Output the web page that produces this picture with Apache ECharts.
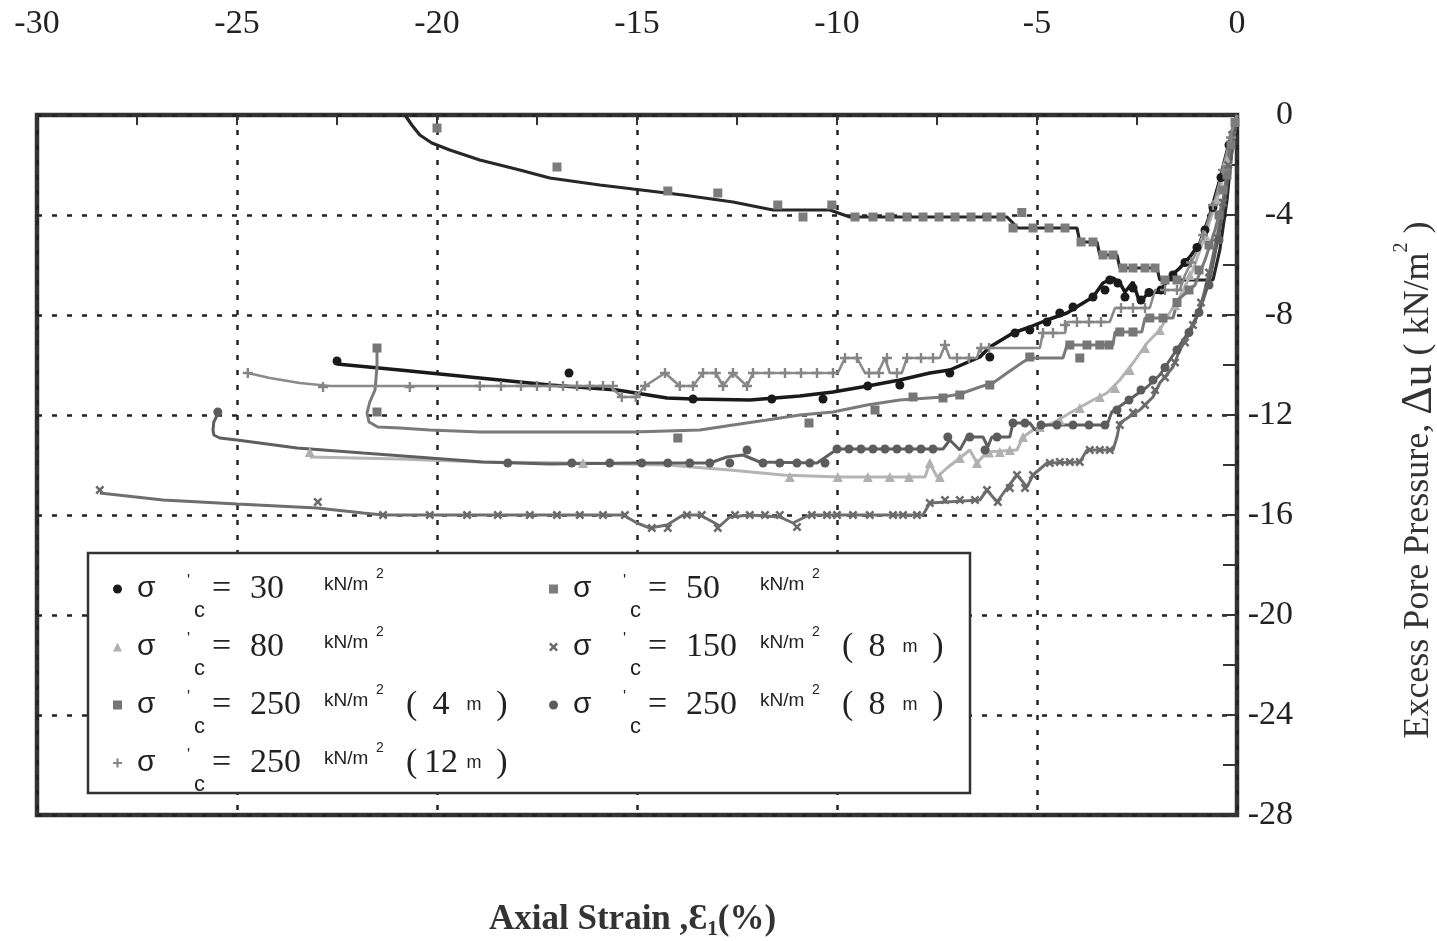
<!DOCTYPE html>
<html><head><meta charset="utf-8">
<script src="https://cdn.jsdelivr.net/npm/echarts/dist/echarts.min.js"></script>
<style>html,body{margin:0;padding:0;background:#fff}#c{width:1437px;height:941px}</style>
</head><body><div id="c"></div>
<script>
// ---- data (x = axial strain %, y = excess pore pressure kN/m2) ----
const xTickValues = [-30, -25, -20, -15, -10, -5, 0];
const yTickValues = [0, -4, -8, -12, -16, -20, -24, -28];

const stressLabels = ['30', '50', '80', '150', '250', '250', '250'];
const depthLabels  = ['', '', '', '8', '4', '8', '12'];

const curve30 = [[-22.5,-9.96],[-20.93,-10.2],[-18.93,-10.52],[-17.18,-10.8],[-15.5,-11.0],[-14.25,-11.32],[-13.6,-11.36],[-12.18,-11.4],[-10.93,-11.24],[-10.1,-11.08],[-9.23,-10.84],[-8.43,-10.6],[-7.68,-10.32],[-7.18,-10.2],[-6.43,-9.68],[-6.18,-9.28],[-5.6,-8.72],[-5.18,-8.48],[-4.75,-8.2],[-4.25,-7.92],[-3.93,-7.6],[-3.6,-7.28],[-3.35,-6.72],[-3.1,-6.52],[-2.93,-6.72],[-2.8,-7.08],[-2.6,-6.68],[-2.43,-7.52],[-2.23,-7.12],[-1.93,-7.08],[-1.68,-6.48],[-1.43,-6.12],[-1.18,-5.68],[-0.93,-5.12],[-0.68,-4.0],[-0.43,-2.6],[-0.18,-1.0],[0,0]];
const marks30 = [[-22.5,-9.84],[-16.7,-10.32],[-13.6,-11.36],[-11.63,-11.36],[-10.35,-11.36],[-9.23,-10.84],[-8.43,-10.8],[-7.18,-10.32],[-6.18,-9.68],[-5.55,-8.72],[-5.18,-8.6],[-4.75,-8.28],[-4.43,-7.92],[-4.1,-7.68],[-3.6,-7.28],[-3.3,-7.0],[-3.18,-6.6],[-2.98,-6.72],[-2.8,-7.28],[-2.6,-6.92],[-2.4,-7.4],[-2.2,-7.1],[-1.9,-7.0],[-1.6,-6.4],[-1.3,-5.9],[-1.0,-5.3],[-0.8,-4.6],[-0.6,-3.7],[-0.4,-2.5],[-0.2,-1.2]];

const curve50 = [[-20.8,0],[-20.63,-0.4],[-20.43,-0.8],[-20.13,-1.12],[-19.68,-1.4],[-18.93,-1.8],[-17.93,-2.2],[-17.18,-2.52],[-15.93,-2.8],[-15.1,-2.96],[-13.85,-3.2],[-12.6,-3.48],[-11.6,-3.8],[-11.1,-3.8],[-10.18,-3.8],[-9.68,-4.08],[-8.43,-4.08],[-5.75,-4.08],[-5.48,-4.52],[-4.0,-4.52],[-3.93,-5.08],[-3.5,-5.08],[-3.43,-5.6],[-3.0,-5.6],[-2.93,-6.12],[-2.0,-6.12],[-1.93,-6.6],[-0.6,-6.6],[-0.43,-5.4],[-0.25,-3.4],[-0.13,-1.4],[0,0]];
const marks50 = [[-20.0,-0.52],[-17.0,-2.08],[-14.23,-3.04],[-12.98,-3.12],[-11.48,-3.6],[-10.85,-4.08],[-10.13,-3.6],[-9.55,-4.08],[-9.1,-4.08],[-8.68,-4.08],[-8.25,-4.08],[-7.85,-4.08],[-7.45,-4.08],[-7.05,-4.08],[-6.65,-4.08],[-6.25,-4.08],[-5.9,-4.08],[-5.6,-4.52],[-5.38,-3.9],[-5.1,-4.52],[-4.7,-4.52],[-4.3,-4.52],[-3.9,-5.08],[-3.6,-5.08],[-3.35,-5.6],[-3.1,-5.6],[-2.85,-6.12],[-2.6,-6.12],[-2.3,-6.12],[-2.05,-6.12],[-1.8,-6.6],[-1.5,-6.6],[-0.35,-3.0],[-0.25,-2.2],[-0.15,-1.2],[-0.05,-0.3]];

const curve80 = [[-23.18,-13.68],[-20.93,-13.76],[-18.93,-13.88],[-16.35,-13.92],[-14.25,-14.0],[-12.68,-14.2],[-11.35,-14.4],[-9.98,-14.48],[-8.6,-14.48],[-7.8,-14.48],[-7.68,-13.92],[-7.5,-14.48],[-7.25,-14.12],[-6.93,-13.72],[-6.68,-13.4],[-6.5,-13.92],[-6.25,-13.48],[-5.5,-13.4],[-5.35,-12.88],[-5.1,-12.6],[-4.6,-12.32],[-4.18,-11.92],[-3.6,-11.4],[-3.25,-11.12],[-2.93,-10.6],[-2.6,-9.92],[-2.25,-9.12],[-1.93,-8.6],[-1.75,-8.08],[-1.43,-7.28],[-1.1,-6.2],[-0.75,-4.6],[-0.43,-3.0],[-0.18,-1.4],[0,0]];
const marks80 = [[-23.18,-13.48],[-16.35,-13.92],[-11.18,-14.48],[-9.98,-14.48],[-9.23,-14.48],[-8.68,-14.48],[-8.2,-14.48],[-7.68,-13.92],[-7.43,-14.48],[-6.93,-13.72],[-6.5,-13.92],[-6.2,-13.5],[-5.93,-13.48],[-5.68,-13.4],[-5.35,-12.88],[-4.93,-12.48],[-4.43,-12.2],[-3.93,-11.72],[-3.43,-11.28],[-3.05,-10.92],[-2.68,-10.2],[-2.3,-9.32],[-1.93,-8.6],[-1.55,-7.6],[-1.18,-6.4],[-0.8,-4.8],[-0.5,-3.4],[-0.25,-1.8]];

const curve150 = [[-28.43,-15.12],[-26.85,-15.4],[-25.0,-15.56],[-23.0,-15.72],[-21.85,-15.92],[-21.35,-16.0],[-19.25,-16.0],[-15.35,-16.0],[-15.0,-16.32],[-14.68,-16.52],[-14.25,-16.4],[-13.85,-16.0],[-13.43,-16.0],[-13.1,-16.28],[-12.93,-16.44],[-12.68,-16.08],[-12.18,-16.0],[-11.43,-16.08],[-11.1,-16.32],[-10.85,-16.12],[-10.68,-16.0],[-7.85,-16.0],[-7.68,-15.52],[-6.43,-15.4],[-6.25,-15.0],[-6.0,-15.48],[-5.75,-14.92],[-5.5,-14.4],[-5.25,-14.88],[-5.1,-14.4],[-4.75,-13.92],[-3.93,-13.88],[-3.75,-13.4],[-3.1,-13.4],[-3.0,-12.88],[-2.93,-12.32],[-2.43,-11.8],[-2.1,-11.28],[-1.93,-10.72],[-1.6,-10.08],[-1.43,-9.4],[-1.18,-8.72],[-1.0,-8.08],[-0.85,-7.28],[-0.68,-6.2],[-0.5,-4.88],[-0.35,-3.52],[-0.25,-2.2],[-0.18,-0.88],[0,0]];
const marks150 = [[-28.43,-15.0],[-22.98,-15.48],[-21.35,-16.0],[-20.18,-16.0],[-19.25,-16.0],[-18.48,-16.0],[-17.68,-16.0],[-17.0,-16.0],[-16.43,-16.0],[-15.85,-16.0],[-15.3,-16.0],[-14.63,-16.52],[-14.23,-16.52],[-13.75,-16.0],[-13.38,-16.0],[-12.98,-16.52],[-12.55,-16.0],[-12.18,-16.0],[-11.8,-16.0],[-11.43,-16.0],[-11.0,-16.48],[-10.63,-16.0],[-10.25,-16.0],[-10.0,-16.0],[-9.6,-16.0],[-9.18,-16.0],[-8.6,-16.0],[-8.35,-16.0],[-8.0,-16.0],[-7.68,-15.52],[-7.3,-15.4],[-6.93,-15.4],[-6.55,-15.4],[-6.25,-15.0],[-5.98,-15.48],[-5.68,-14.92],[-5.5,-14.4],[-5.3,-14.92],[-5.1,-14.4],[-4.68,-13.92],[-4.43,-13.88],[-4.18,-13.88],[-3.93,-13.88],[-3.68,-13.4],[-3.43,-13.4],[-3.18,-13.4],[-2.93,-12.4],[-2.6,-11.9],[-2.3,-11.6],[-2.05,-11.0],[-1.8,-10.5],[-1.55,-9.9],[-1.3,-9.1],[-1.1,-8.4],[-0.9,-7.5],[-0.7,-6.3],[-0.5,-4.9],[-0.35,-3.5],[-0.22,-2.0],[-0.12,-0.8]];

const curve250m4 = [[-21.5,-9.48],[-21.5,-10.08],[-21.55,-11.0],[-21.68,-11.48],[-21.75,-11.92],[-21.7,-12.28],[-21.48,-12.48],[-20.93,-12.52],[-20.18,-12.6],[-18.93,-12.68],[-17.18,-12.68],[-15.1,-12.68],[-13.43,-12.6],[-12.6,-12.4],[-11.75,-12.2],[-10.93,-12.0],[-10.1,-11.88],[-9.25,-11.6],[-8.43,-11.4],[-7.35,-11.28],[-6.93,-11.16],[-6.43,-10.88],[-6.1,-10.72],[-5.75,-10.32],[-5.35,-9.88],[-5.18,-9.72],[-4.35,-9.72],[-4.25,-9.2],[-3.1,-9.2],[-3.05,-8.68],[-2.38,-8.68],[-2.3,-8.12],[-1.6,-8.12],[-1.48,-7.4],[-1.05,-6.8],[-0.8,-5.8],[-0.55,-4.6],[-0.35,-3.4],[-0.18,-1.8],[0,0]];
const marks250m4 = [[-21.5,-9.32],[-21.5,-11.88],[-13.98,-12.92],[-10.7,-12.32],[-9.05,-11.8],[-8.1,-11.28],[-7.35,-11.32],[-6.93,-11.2],[-6.18,-10.8],[-5.18,-9.68],[-4.18,-9.2],[-3.93,-9.72],[-3.75,-9.2],[-3.43,-9.2],[-3.2,-9.2],[-2.93,-8.68],[-2.6,-8.68],[-2.18,-8.12],[-1.85,-8.12],[-1.5,-7.5],[-1.2,-7.0],[-0.95,-6.2],[-0.7,-5.2],[-0.45,-4.0],[-0.25,-2.4]];

const curve250m8 = [[-25.48,-11.96],[-25.58,-12.28],[-25.6,-12.6],[-25.58,-12.8],[-25.43,-12.92],[-25.0,-13.0],[-23.5,-13.32],[-21.85,-13.52],[-20.18,-13.72],[-18.85,-13.88],[-17.18,-13.96],[-15.1,-13.92],[-13.18,-13.92],[-12.75,-13.68],[-12.35,-13.6],[-11.93,-13.88],[-10.5,-13.92],[-10.1,-13.48],[-9.93,-13.36],[-7.35,-13.36],[-7.18,-13.0],[-6.93,-13.4],[-6.75,-12.88],[-6.35,-12.88],[-6.23,-13.28],[-6.13,-12.88],[-5.68,-12.88],[-5.6,-12.32],[-5.18,-12.32],[-5.05,-12.6],[-4.85,-12.4],[-3.25,-12.4],[-3.13,-11.88],[-2.6,-11.28],[-2.25,-10.88],[-1.93,-10.4],[-1.68,-9.8],[-1.43,-9.2],[-1.18,-8.6],[-0.93,-7.8],[-0.68,-6.6],[-0.43,-4.6],[-0.23,-2.6],[-0.08,-1.0],[0,0]];
const marks250m8 = [[-25.48,-11.88],[-18.23,-13.92],[-16.63,-13.92],[-15.68,-13.92],[-14.88,-13.92],[-14.23,-13.92],[-13.68,-13.92],[-13.18,-13.92],[-12.68,-13.92],[-12.25,-13.4],[-11.85,-13.92],[-11.43,-13.92],[-11.0,-13.92],[-10.68,-13.92],[-10.3,-13.92],[-10.0,-13.36],[-9.7,-13.36],[-9.4,-13.36],[-9.1,-13.36],[-8.8,-13.36],[-8.5,-13.36],[-8.2,-13.36],[-7.9,-13.36],[-7.6,-13.36],[-7.23,-12.88],[-6.68,-12.88],[-6.3,-13.4],[-6.0,-12.88],[-5.6,-12.32],[-5.3,-12.32],[-4.9,-12.4],[-4.5,-12.4],[-4.1,-12.4],[-3.7,-12.4],[-3.3,-12.4],[-3.0,-11.8],[-2.7,-11.4],[-2.4,-11.0],[-2.1,-10.6],[-1.8,-10.1],[-1.5,-9.4],[-1.2,-8.7],[-0.95,-7.9],[-0.7,-6.8],[-0.45,-5.0]];

const curve250m12 = [[-24.73,-10.32],[-24.18,-10.52],[-23.43,-10.72],[-22.68,-10.84],[-15.68,-10.84],[-15.38,-11.28],[-15.03,-11.28],[-14.8,-10.84],[-14.3,-10.32],[-13.93,-10.84],[-13.6,-10.84],[-13.35,-10.32],[-13.03,-10.32],[-12.85,-10.84],[-12.6,-10.32],[-12.25,-10.84],[-12.1,-10.32],[-9.98,-10.32],[-9.8,-9.72],[-9.5,-9.72],[-9.3,-10.32],[-8.98,-10.32],[-8.8,-9.72],[-8.68,-10.32],[-8.38,-10.32],[-8.25,-9.72],[-7.43,-9.72],[-7.3,-9.2],[-7.18,-9.72],[-6.5,-9.72],[-6.43,-9.32],[-4.93,-9.32],[-4.85,-8.72],[-4.3,-8.72],[-4.25,-8.28],[-3.18,-8.28],[-3.05,-7.72],[-2.18,-7.72],[-2.05,-7.0],[-1.43,-7.0],[-1.3,-6.4],[-1.05,-5.6],[-0.8,-4.6],[-0.55,-3.4],[-0.3,-1.8],[-0.13,-0.6],[0,0]];
const marks250m12 = [[-24.73,-10.32],[-22.85,-10.88],[-20.68,-10.88],[-18.93,-10.84],[-18.4,-10.84],[-17.9,-10.84],[-17.5,-10.84],[-17.18,-10.84],[-16.85,-10.84],[-16.5,-10.84],[-16.18,-10.84],[-15.85,-10.84],[-15.6,-10.84],[-15.38,-11.28],[-15.03,-11.28],[-14.8,-10.84],[-14.3,-10.32],[-13.93,-10.84],[-13.6,-10.84],[-13.35,-10.32],[-13.03,-10.32],[-12.85,-10.84],[-12.6,-10.32],[-12.25,-10.84],[-12.1,-10.32],[-11.7,-10.32],[-11.3,-10.32],[-10.9,-10.32],[-10.5,-10.32],[-10.1,-10.32],[-9.8,-9.72],[-9.5,-9.72],[-9.2,-10.32],[-8.95,-10.32],[-8.75,-9.72],[-8.5,-10.32],[-8.25,-9.72],[-7.9,-9.72],[-7.6,-9.72],[-7.3,-9.2],[-7.0,-9.72],[-6.7,-9.72],[-6.4,-9.32],[-6.2,-9.32],[-4.85,-8.72],[-4.6,-8.72],[-4.3,-8.4],[-4.0,-8.28],[-3.7,-8.28],[-3.4,-8.28],[-2.9,-7.72],[-2.6,-7.72],[-2.3,-7.72],[-1.8,-7.0],[-1.5,-7.0],[-1.15,-5.9],[-0.85,-4.8],[-0.6,-3.6],[-0.35,-2.2],[-0.15,-0.9]];

// ---- presentation ----
const SERIF = 'Liberation Serif';
const SANS = 'Liberation Sans';
const XMARK = 'path://M2,0L5,3L8,0L10,2L7,5L10,8L8,10L5,7L2,10L0,8L3,5L0,2Z';
const PLUS = 'path://M3.8,0H6.2V3.8H10V6.2H6.2V10H3.8V6.2H0V3.8H3.8Z';

const defs = [
  {key:'k30',  curve:curve30,     marks:marks30,     line:'#1a1a1a', mark:'#1a1a1a', symbol:'circle',   size:9,  lw:3.5},
  {key:'k50',  curve:curve50,     marks:marks50,     line:'#272727', mark:'#7c7c7c', symbol:'rect',     size:9,  lw:3.2},
  {key:'k80',  curve:curve80,     marks:marks80,     line:'#b4b4b4', mark:'#b0b0b0', symbol:'triangle', size:10, lw:3},
  {key:'k150', curve:curve150,    marks:marks150,    line:'#6e6e6e', mark:'#6a6a6a', symbol:XMARK,      size:9,  lw:3},
  {key:'k250a',curve:curve250m4,  marks:marks250m4,  line:'#7a7a7a', mark:'#767676', symbol:'rect',     size:9,  lw:3},
  {key:'k250b',curve:curve250m8,  marks:marks250m8,  line:'#5f5f5f', mark:'#5c5c5c', symbol:'circle',   size:9,  lw:3},
  {key:'k250c',curve:curve250m12, marks:marks250m12, line:'#8a8a8a', mark:'#858585', symbol:PLUS,       size:10, lw:2.6}
];

const legendText = {};
defs.forEach((d, i) => {
  let s = '{s|σ}{q|\'}{c|c}{e|=}{n|' + stressLabels[i] + '}{u|kN/m}{t|2}';
  if (depthLabels[i]) s += '{p|(}{d|' + depthLabels[i] + '}{m|m}{p|)}';
  legendText[d.key] = s;
});

const series = [];
defs.forEach(d => {
  series.push({
    name: d.key + '_line', type: 'line', data: d.curve, showSymbol: false,
    lineStyle: {color: d.line, width: d.lw}, itemStyle: {color: d.line},
    z: 2, animation: false, silent: true
  });
});
defs.forEach(d => {
  series.push({
    name: d.key, type: 'scatter', data: d.marks, symbol: d.symbol, symbolSize: d.size,
    itemStyle: {color: d.mark, opacity: 1}, z: 3, animation: false, silent: true
  });
});

const legendRich = {
  s: {fontFamily: SANS, fontSize: 30, width: 50, padding: [0,0,0,10], lineHeight: 40, color: '#222'},
  q: {fontFamily: SANS, fontSize: 16, width: 7, padding: [0,0,14,0], lineHeight: 40, color: '#222'},
  c: {fontFamily: SANS, fontSize: 22, width: 18, padding: [44,0,0,0], lineHeight: 40, color: '#222'},
  e: {fontFamily: SERIF, fontSize: 34, width: 38, lineHeight: 40, color: '#222'},
  n: {fontFamily: SERIF, fontSize: 34, width: 74, lineHeight: 40, color: '#222'},
  u: {fontFamily: SANS, fontSize: 19, width: 52, padding: [0,0,8,0], lineHeight: 40, color: '#222'},
  t: {fontFamily: SANS, fontSize: 14, width: 30, padding: [0,0,30,0], lineHeight: 40, color: '#222'},
  p: {fontFamily: SERIF, fontSize: 34, width: 20, lineHeight: 40, color: '#222'},
  d: {fontFamily: SERIF, fontSize: 34, width: 30, align: 'center', lineHeight: 40, color: '#222'},
  m: {fontFamily: SANS, fontSize: 18, width: 36, align: 'center', lineHeight: 40, color: '#222'}
};

function legendOf(keys, left) {
  return {
    orient: 'vertical', left: left, top: 551, itemGap: -8, itemWidth: 9, itemHeight: 9,
    selectedMode: false, z: 6,
    data: keys.map(k => {
      const d = defs.find(e => e.key === k);
      return {name: k, icon: d.symbol};
    }),
    formatter: name => legendText[name],
    textStyle: {rich: legendRich, color: '#222'}
  };
}

const chart = echarts.init(document.getElementById('c'), null, {renderer: 'canvas'});
chart.setOption({
  backgroundColor: '#fff',
  animation: false,
  grid: {left: 37, right: 200, top: 115, bottom: 126, show: true, borderColor: '#333', borderWidth: 4.5,
         backgroundColor: 'transparent', containLabel: false, outerBoundsMode: 'none'},
  title: {
    text: '{a|Axial Strain ,}{e|Ɛ}{s|1}{a|(%)}',
    left: 484, top: 893,
    textStyle: {rich: {
      a: {fontFamily: SERIF, fontWeight: 'bold', fontSize: 35, color: '#333', lineHeight: 44},
      e: {fontFamily: SERIF, fontWeight: 'bold', fontSize: 36, color: '#333', lineHeight: 44},
      s: {fontFamily: SERIF, fontWeight: 'bold', fontSize: 21, color: '#333', lineHeight: 44, padding: [20,0,0,0]}
    }}
  },
  xAxis: {
    type: 'value', position: 'top', min: xTickValues[0], max: xTickValues[xTickValues.length-1], interval: 5,
    axisLine: {show: false},
    axisTick: {show: true, inside: true, length: 10, lineStyle: {color: '#333', width: 2}},
    minorTick: {show: true, splitNumber: 2, length: 10, lineStyle: {color: '#333', width: 2}},
    splitLine: {show: true, lineStyle: {color: '#222', width: 2.5, type: [5, 10]}},
    axisLabel: {fontFamily: SERIF, fontSize: 34, color: '#222', margin: 74}
  },
  yAxis: {
    type: 'value', position: 'right', min: yTickValues[yTickValues.length-1], max: yTickValues[0], interval: 4,
    axisLine: {show: false},
    axisTick: {show: true, inside: true, length: 14, lineStyle: {color: '#333', width: 2}},
    minorTick: {show: true, splitNumber: 2, length: 14, lineStyle: {color: '#333', width: 2}},
    splitLine: {show: true, lineStyle: {color: '#222', width: 2.5, type: [5, 10]}},
    axisLabel: {fontFamily: SERIF, fontSize: 34, color: '#222', margin: 56, align: 'right'},
    name: '{a|Excess Pore Pressure, }{d|Δu}{a| ( kN/m}{t|2}{a| )}',
    nameLocation: 'middle', nameRotate: 90, nameGap: 160,
    nameTextStyle: {padding: [0,30,0,0], rich: {
      a: {fontFamily: SERIF, fontSize: 36, color: '#333', lineHeight: 44},
      d: {fontFamily: SERIF, fontSize: 44, color: '#333', lineHeight: 44},
      t: {fontFamily: SERIF, fontSize: 20, color: '#333', lineHeight: 44, padding: [0,0,34,0]}
    }}
  },
  legend: [
    legendOf(['k30', 'k80', 'k250a', 'k250c'], 108),
    legendOf(['k50', 'k150', 'k250b'], 544)
  ],
  graphic: [{
    type: 'rect', shape: {x: 88, y: 553, width: 882, height: 240}, z: 5,
    style: {fill: '#fff', stroke: '#333', lineWidth: 2.5}, silent: true
  }],
  series: series
});
</script></body></html>
